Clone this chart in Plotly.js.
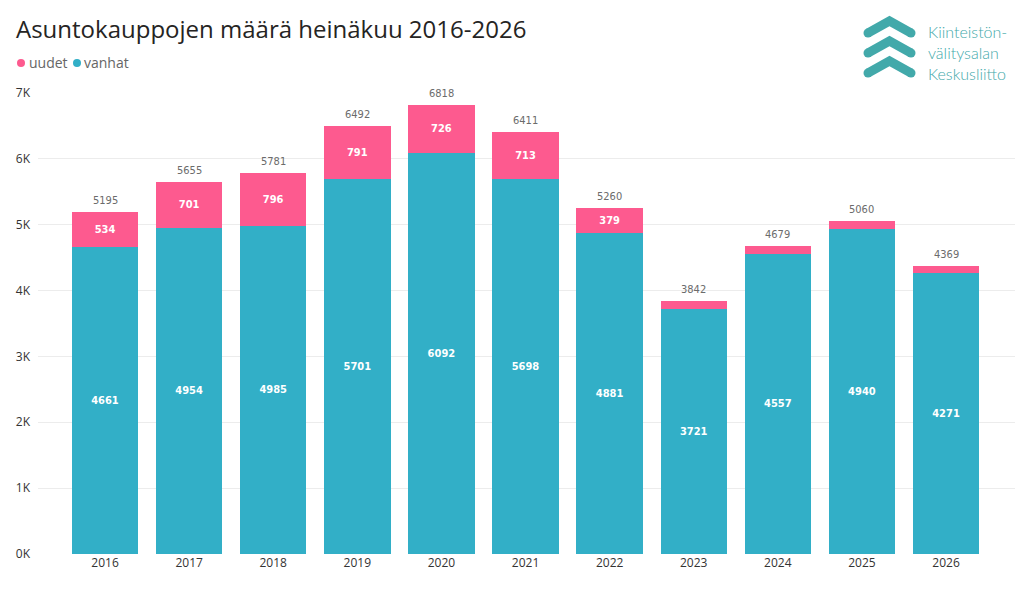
<!DOCTYPE html>
<html><head><meta charset="utf-8">
<script src="https://cdn.plot.ly/plotly-3.0.1.min.js"></script>
<style>body{margin:0;background:#fff}#c{width:1024px;height:594px}</style>
</head><body><div id="c"></div>
<script>
const years = ['2016','2017','2018','2019','2020','2021','2022','2023','2024','2025','2026'];
const vanhat = [4661,4954,4985,5701,6092,5698,4881,3721,4557,4940,4271];
const uudet = [534,701,796,791,726,713,379,121,122,120,98];
const yTickVals = [0,1000,2000,3000,4000,5000,6000,7000];
const yTickText = ['0K','1K','2K','3K','4K','5K','6K','7K'];

const totals = vanhat.map((v,i)=>v+uudet[i]);
const PINK = '#FD5A8F', TEAL = '#32AFC7', LOGO = '#42A9AA';
const LBL = '"DejaVu Sans Condensed","Liberation Sans Narrow",sans-serif';
const UI = '"Open Sans","Noto Sans",sans-serif';

// plot-area pixel geometry helpers for decorations
const L=38, R=1015, T=93, B=553.7;
const px = x => (x-L)/(R-L);
const py = y => (B-y)/(B-T);

const traces = [
  {type:'bar', name:'vanhat', x:years, y:vanhat, marker:{color:TEAL},
   text:vanhat.map(String), textposition:'inside', insidetextanchor:'middle', textangle:0,
   constraintext:'none', textfont:{color:'#fff', size:11, family:LBL, weight:'bold'},
   hoverinfo:'x+y', showlegend:false, cliponaxis:false},
  {type:'bar', name:'uudet', x:years, y:uudet, marker:{color:PINK},
   text:uudet.map(v=> v>=200 ? String(v) : ''), textposition:'inside', insidetextanchor:'middle', textangle:0,
   constraintext:'none', textfont:{color:'#fff', size:11, family:LBL, weight:'bold'},
   hoverinfo:'x+y', showlegend:false, cliponaxis:false}
];

const annotations = years.map((yr,i)=>({
  x:i, y:totals[i], xref:'x', yref:'y', yanchor:'bottom', yshift:3, showarrow:false,
  text:String(totals[i]), font:{size:11, color:'#6b6b6b', family:LBL}
}));

// legend texts
annotations.push({xref:'paper', yref:'paper', x:px(27), y:py(63), xanchor:'left', yanchor:'middle',
  showarrow:false, text:'uudet', font:{size:14, color:'#666', family:UI}});
annotations.push({xref:'paper', yref:'paper', x:px(82), y:py(63), xanchor:'left', yanchor:'middle',
  showarrow:false, text:'vanhat', font:{size:14, color:'#666', family:UI}});
// logo text
annotations.push({xref:'paper', yref:'paper', x:px(926), y:py(53), xanchor:'left', yanchor:'middle', align:'left',
  showarrow:false, text:'Kiinteistön-<br>välitysalan<br>Keskusliitto', font:{size:16, color:LOGO, family:'Lato, "Open Sans", sans-serif', weight:300}});

const shapes = [
  {type:'circle', xref:'paper', yref:'paper', x0:px(17), x1:px(25), y0:py(59), y1:py(67), fillcolor:PINK, line:{width:0}},
  {type:'circle', xref:'paper', yref:'paper', x0:px(73), x1:px(81), y0:py(59), y1:py(67), fillcolor:TEAL, line:{width:0}}
];
[0,20,40].forEach(d=>{
  shapes.push({type:'path', xref:'paper', yref:'paper',
    path:`M ${px(868)} ${py(33+d)} L ${px(889.5)} ${py(21+d)} L ${px(911)} ${py(33+d)}`,
    line:{color:LOGO, width:9}});
  [868,911].forEach(xx=>{
    shapes.push({type:'circle', xref:'paper', yref:'paper', x0:px(xx-4.5), x1:px(xx+4.5), y0:py(33+d-4.5), y1:py(33+d+4.5), fillcolor:LOGO, line:{width:0}});
  });
});

const layout = {
  width:1024, height:594, barmode:'stack', bargap:0.21,
  margin:{l:L, r:1024-R, t:T, b:594-B, pad:0},
  paper_bgcolor:'#fff', plot_bgcolor:'#fff',
  title:{text:'Asuntokauppojen määrä heinäkuu 2016-2026', x:16/1024, xref:'container', xanchor:'left',
    y:1-30/594, yref:'container', yanchor:'middle', font:{size:24, color:'#252423', family:UI}},
  xaxis:{type:'category', range:[-0.797,10.82], showgrid:false, zeroline:false, ticks:'',
    tickfont:{size:12, color:'#333', family:UI}, fixedrange:true},
  yaxis:{range:[0,7000], tickvals:yTickVals, ticktext:yTickText, showgrid:true, gridcolor:'#ececec',
    zeroline:false, ticks:'', ticklabelstandoff:7, tickfont:{size:12, color:'#333', family:UI}, fixedrange:true},
  showlegend:false, annotations, shapes
};
Plotly.newPlot('c', traces, layout, {displayModeBar:false, staticPlot:true});
</script></body></html>
